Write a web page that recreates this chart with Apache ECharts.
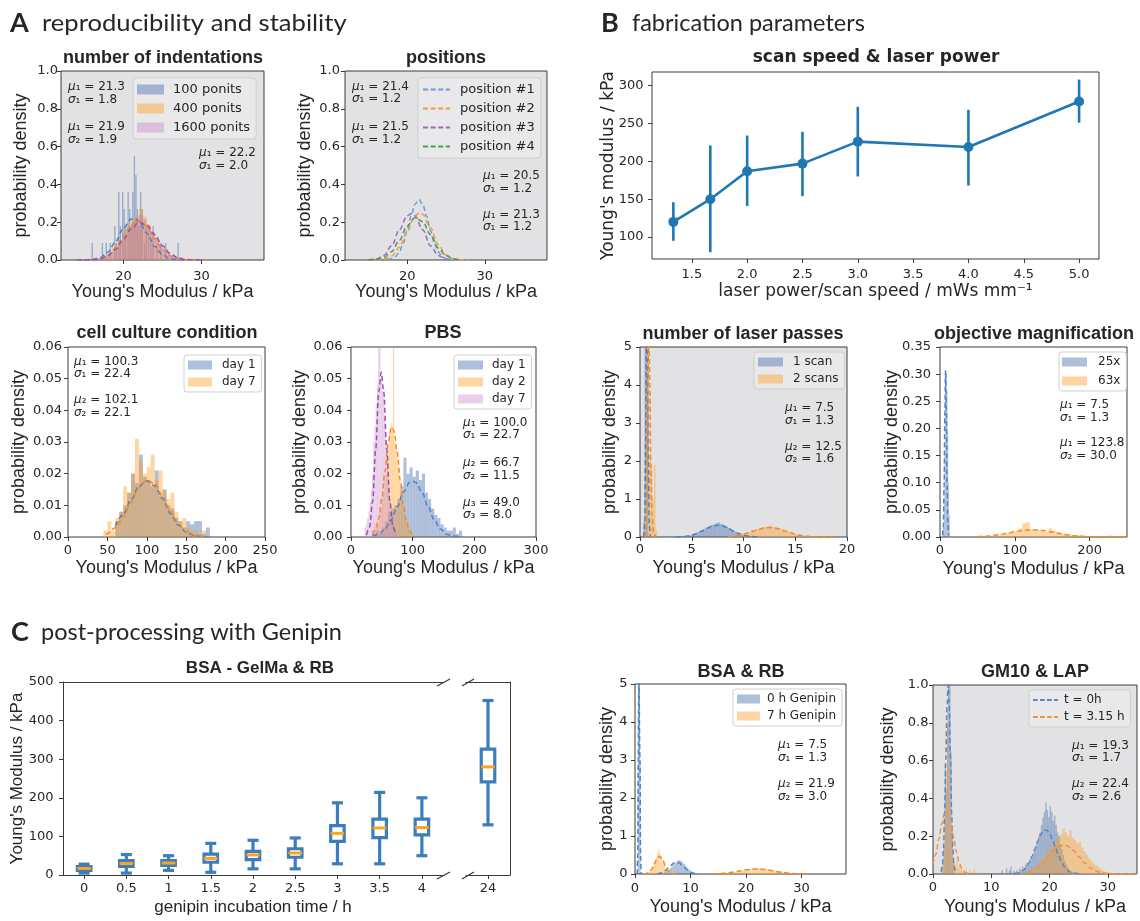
<!DOCTYPE html>
<html>
<head>
<meta charset="utf-8">
<script src="https://cdn.jsdelivr.net/npm/echarts@6.0.0/dist/echarts.min.js"></script>
<style>
html,body{margin:0;padding:0;background:#ffffff;}
#chart{width:1140px;height:921px;}
</style>
</head>
<body>
<div id="chart"></div>
<script>
// ======================= DATA =======================
// ---- A1: number of indentations ----
const a1Names = ['100 ponits', '400 ponits', '1600 ponits'];
const a1BlueCenters = [16.0,17.3,17.8,18.3,18.9,19.1,19.4,19.6,19.9,20.1,20.3,20.6,20.8,21.0,21.2,21.4,21.6,21.8,22.0,22.2,22.4,22.7,22.9,23.2,23.5,23.8,24.3,24.8,25.4,27.0];
const a1BlueVals = [0.09,0.09,0.09,0.09,0.18,0.09,0.36,0.18,0.36,0.27,0.18,0.36,0.27,0.18,0.36,0.55,0.45,0.27,0.18,0.36,0.27,0.09,0.18,0.18,0.09,0.18,0.09,0.09,0.09,0.09];
const a1BlueBin = 0.17;
const a1OrangeStart = 15, a1OrangeBin = 0.5;
const a1OrangeVals = [0.005,0,0.006,0.010,0.016,0.022,0.036,0.058,0.085,0.105,0.150,0.185,0.215,0.235,0.270,0.230,0.190,0.150,0.100,0.072,0.045,0.030,0.016,0.009,0.005,0.003,0.002,0,0.004,0,0,0.004];
const a1PurpleStart = 14, a1PurpleBin = 0.5;
const a1PurpleVals = [0.001,0.001,0.001,0.002,0.003,0.006,0.010,0.018,0.030,0.046,0.068,0.096,0.128,0.158,0.19,0.22,0.24,0.215,0.18,0.152,0.120,0.090,0.063,0.043,0.027,0.016,0.009,0.005,0.003,0.002,0.001,0.001,0,0,0,0];
const a1FitBlueX = [15,16,17,18,19,20,21,21.5,22,23,24,25,26,27,28];
const a1FitBlueY = [0.0005,0.003,0.013,0.041,0.097,0.170,0.217,0.220,0.204,0.141,0.072,0.027,0.007,0.0015,0.0002];
const a1FitOrangeX = [15,16,17,18,19,20,21,22,23,24,25,26,27,28,29];
const a1FitOrangeY = [0.0003,0.0017,0.0075,0.026,0.065,0.127,0.188,0.209,0.178,0.114,0.055,0.020,0.006,0.0012,0.0002];
const a1FitPurpleX = [14,15,16,17,18,19,20,21,22,23,24,25,26,27,28,29,30];
const a1FitPurpleY = [0,0.0003,0.0016,0.0068,0.022,0.056,0.109,0.167,0.199,0.185,0.133,0.075,0.033,0.011,0.003,0.0006,0];
const a1Notes = ['μ₁ = 21.3\nσ₁ = 1.8', 'μ₁ = 21.9\nσ₂ = 1.9', 'μ₁ = 22.2\nσ₁ = 2.0'];

// ---- A2: positions ----
const a2Names = ['position #1', 'position #2', 'position #3', 'position #4'];
const a2Pos1X = [17.5,18,18.5,19,19.5,20,20.5,21,21.5,22,22.5,23,23.5,24,24.5,25,25.5,26];
const a2Pos1Y = [0.002,0.006,0.018,0.043,0.089,0.156,0.232,0.295,0.32,0.295,0.232,0.156,0.089,0.043,0.018,0.006,0.002,0.0005];
const a2Pos2X = [16,17,18,19,20,21,21.6,22,23,24,25,26,27,28];
const a2Pos2Y = [0.0005,0.004,0.02,0.067,0.152,0.233,0.25,0.242,0.17,0.081,0.026,0.006,0.001,0.0001];
const a2Pos3X = [15,16,17,18,19,20,20.5,21,22,23,24,25,26];
const a2Pos3Y = [0.0008,0.005,0.024,0.075,0.16,0.234,0.245,0.234,0.16,0.075,0.024,0.005,0.0008];
const a2Pos4X = [15,16,17,18,19,20,21,22,23,24,25,26,27];
const a2Pos4Y = [0.0005,0.003,0.0135,0.044,0.104,0.179,0.224,0.203,0.134,0.064,0.022,0.0057,0.001];
const a2Notes = ['μ₁ = 21.4\nσ₁ = 1.2', 'μ₁ = 21.5\nσ₁ = 1.2', 'μ₁ = 20.5\nσ₁ = 1.2', 'μ₁ = 21.3\nσ₁ = 1.2'];

// ---- A3: cell culture condition ----
const a3Names = ['day 1', 'day 7'];
const a3Day1Start = 60, a3Day1Bin = 5;
const a3Day1Vals = [0.005,0.008,0.010,0.014,0.020,0.017,0.026,0.019,0.018,0.016,0.021,0.013,0.015,0.010,0.009,0.006,0.005,0.003,0.005,0.004,0.005,0.005,0.001,0.003];
const a3Day7Start = 45, a3Day7Bin = 5;
const a3Day7Vals = [0.002,0.005,0.002,0.006,0.008,0.016,0.014,0.020,0.031,0.024,0.020,0.022,0.026,0.018,0.021,0.015,0.012,0.014,0.008,0.005,0.006,0.003,0.002,0.002,0.001,0.002];
const a3Fit1X = [60,70,80,90,100,110,120,130,140,150,160,170,175];
const a3Fit1Y = [0.0035,0.0071,0.0118,0.016,0.0178,0.0162,0.0121,0.0074,0.0037,0.0015,0.0005,0.00014,0.0001];
const a3Fit2X = [48,50,60,70,80,90,100,110,120,130,140,150,160,170];
const a3Fit2Y = [0.0009,0.0011,0.0029,0.0063,0.0109,0.0155,0.0179,0.0169,0.013,0.0081,0.0041,0.0017,0.0006,0.0002];
const a3Notes = ['μ₁ = 100.3\nσ₁ = 22.4', 'μ₂ = 102.1\nσ₂ = 22.1'];

// ---- A4: PBS ----
const a4Names = ['day 1', 'day 2', 'day 7'];
const a4Day1Start = 35, a4Day1Bin = 5;
const a4Day1Vals = [0.001,0.002,0.001,0.003,0.005,0.008,0.009,0.010,0.012,0.016,0.025,0.020,0.022,0.019,0.021,0.018,0.020,0.014,0.012,0.009,0.007,0.006,0.004,0.003,0.002,0.002,0.003,0.001,0.002];
const a4Day2Start = 34, a4Day2Bin = 2;
const a4Day2Vals = [0.002,0.002,0.004,0.003,0.005,0.004,0.008,0.009,0.012,0.014,0.018,0.020,0.026,0.029,0.033,0.036,0.035,0.065,0.030,0.029,0.027,0.022,0.018,0.015,0.012,0.010,0.007,0.006,0.004,0.003,0.003,0.002,0.001];
const a4Day7Start = 22, a4Day7Bin = 2;
const a4Day7Vals = [0.003,0.004,0.006,0.008,0.011,0.015,0.020,0.030,0.035,0.042,0.048,0.065,0.065,0.050,0.046,0.044,0.038,0.030,0.024,0.016,0.012,0.008,0.005,0.004,0.002,0.001,0.001];
const a4Fit1X = [35,45,55,65,75,85,95,100,105,115,125,135,145,155,165,175];
const a4Fit1Y = [0.0003,0.0009,0.0025,0.0054,0.0096,0.0142,0.0172,0.0176,0.0172,0.0142,0.0096,0.0054,0.0025,0.0009,0.0003,0.0001];
const a4Fit2X = [35,40,45,50,55,60,65,66.7,70,75,80,85,90,95,100];
const a4Fit2Y = [0.0008,0.0024,0.0058,0.0121,0.0207,0.0293,0.0343,0.0347,0.0333,0.0268,0.0178,0.0098,0.0045,0.0017,0.0005];
const a4Fit3X = [25,30,35,40,45,49,53,58,63,68,73];
const a4Fit3Y = [0.0006,0.0031,0.0112,0.0276,0.0459,0.052,0.0459,0.0276,0.0112,0.0031,0.0006];
const a4Notes = ['μ₁ = 100.0\nσ₁ = 22.7', 'μ₂ = 66.7\nσ₂ = 11.5', 'μ₃ = 49.0\nσ₃ = 8.0'];

// ---- B1: scan speed & laser power ----
const b1X = [1.333,1.667,2.0,2.5,3.0,4.0,5.0];
const b1Y = [120,150,187,197,226,219,279];
const b1Lo = [95,80,141,154,180,168,251];
const b1Hi = [146,221,234,239,272,268,308];

// ---- B2: number of laser passes ----
const b2Names = ['1 scan', '2 scans'];
const b2BlueSpikeStart = 0.32, b2BlueSpikeBin = 0.12;
const b2BlueSpikeVals = [0.4,5.5,5.5,4.3];
const b2BlueStart = 4.0, b2BlueBin = 0.25;
const b2BlueVals = [0.012,0.02,0.03,0.045,0.065,0.09,0.13,0.15,0.2,0.24,0.27,0.31,0.33,0.36,0.38,0.34,0.32,0.28,0.24,0.2,0.16,0.12,0.09,0.065,0.045,0.03,0.02,0.012];
const b2OrangeSpikeStart = 0.6, b2OrangeSpikeBin = 0.15;
const b2OrangeSpikeVals = [5.5,3.7,2.2,1.9,1.0,1.9,0.2];
const b2OrangeStart = 8.4, b2OrangeBin = 0.4;
const b2OrangeVals = [0.015,0.025,0.04,0.065,0.095,0.13,0.175,0.21,0.235,0.27,0.3,0.26,0.24,0.2,0.16,0.12,0.08,0.055,0.035,0.02,0.012,0.006,0.004,0.002,0.002,0.001,0.002];
const b2FitSpikeBX = [0.35,0.45,0.55,0.62,0.7,0.8,0.9,1.0];
const b2FitSpikeBY = [0,0.3,2.5,5.5,5.5,2.0,0.3,0];
const b2FitBX = [3.5,4,4.5,5,5.5,6,6.5,7,7.5,8,8.5,9,9.5,10,10.5,11,11.5];
const b2FitBY = [0.003,0.008,0.022,0.049,0.095,0.159,0.23,0.288,0.31,0.288,0.23,0.159,0.095,0.049,0.022,0.008,0.003];
const b2FitSpikeOX = [0.55,0.65,0.75,0.85,0.95,1.05,1.15,1.3,1.5];
const b2FitSpikeOY = [0,0.8,4.0,5.5,4.0,1.8,0.6,0.1,0];
const b2FitOX = [8.5,9,9.5,10,10.5,11,11.5,12,12.5,13,13.5,14,14.5,15,15.5,16,16.5,17,18,19];
const b2FitOY = [0.011,0.023,0.043,0.074,0.115,0.161,0.206,0.238,0.25,0.238,0.206,0.161,0.115,0.074,0.043,0.023,0.011,0.005,0.0006,0];
const b2Notes = ['μ₁ = 7.5\nσ₁ = 1.3', 'μ₂ = 12.5\nσ₂ = 1.6'];

// ---- B3: objective magnification ----
const b3Names = ['25x', '63x'];
const b3BlueStart = 4, b3BlueBin = 1;
const b3BlueVals = [0.02,0.07,0.15,0.25,0.30,0.27,0.19,0.10,0.04];
const b3OrangeStart = 50, b3OrangeBin = 5;
const b3OrangeVals = [0.001,0,0.002,0.002,0.003,0.004,0.005,0.006,0.008,0.009,0.011,0.016,0.025,0.027,0.014,0.013,0.013,0.012,0.010,0.016,0.012,0.008,0.007,0.006,0.005,0.004,0.003,0.004,0.002,0.002,0.002,0.001,0.001,0.002,0.001,0.003,0.001,0.001,0.001,0.001];
const b3FitBX = [3.5,4.5,5.5,6.5,7.5,8.5,9.5,10.5,11.5];
const b3FitBY = [0.003,0.022,0.095,0.23,0.307,0.23,0.095,0.022,0.003];
const b3FitOX = [50,60,70,80,90,100,110,120,130,140,150,160,170,180,190,200,210,220,230,240,250];
const b3FitOY = [0.0006,0.0014,0.0027,0.0046,0.007,0.0097,0.012,0.0132,0.013,0.0115,0.0091,0.0064,0.0041,0.0023,0.0012,0.0005,0.0002,0.0001,0,0,0];
const b3Notes = ['μ₁ = 7.5\nσ₁ = 1.3', 'μ₁ = 123.8\nσ₂ = 30.0'];

// ---- C1: BSA - GelMa & RB (box plot) ----
const c1Cats = ['0','0.5','1','1.5','2','2.5','3','3.5','4'];
const c1Min = [5,5,12,7,16,16,29,29,50];
const c1Q1  = [12,22,25,33,40,46,87,97,104];
const c1Med = [17,30,31,43,52,57,108,122,123];
const c1Q3  = [22,37,37,54,61,68,128,145,145];
const c1Max = [28,53,50,82,90,96,187,214,200];
const c1BreakCats = ['24'];
const c1BreakBox = [130,241,280,326,452];

// ---- C2: BSA & RB ----
const c2Names = ['0 h Genipin', '7 h Genipin'];
const c2BlueSpikeStart = 0.5, c2BlueSpikeBin = 0.1;
const c2BlueSpikeVals = [4.2,5.5,5.5,5.5,3.0];
const c2BlueStart = 4.75, c2BlueBin = 0.25;
const c2BlueVals = [0.02,0.03,0.045,0.065,0.09,0.12,0.15,0.19,0.23,0.27,0.3,0.34,0.37,0.36,0.33,0.3,0.26,0.22,0.18,0.14,0.1,0.07,0.05,0.03,0.02,0.01];
const c2Orange1Start = 2.0, c2Orange1Bin = 0.2;
const c2Orange1Vals = [0.015,0.03,0.045,0.07,0.11,0.16,0.22,0.3,0.36,0.45,0.58,0.65,0.55,0.48,0.4,0.3,0.22,0.15,0.1,0.06,0.04,0.02];
const c2Orange2Start = 14.5, c2Orange2Bin = 0.5;
const c2Orange2Vals = [0.006,0.01,0.013,0.02,0.026,0.036,0.045,0.058,0.07,0.085,0.1,0.115,0.13,0.14,0.15,0.155,0.145,0.14,0.13,0.12,0.105,0.09,0.075,0.06,0.045,0.034,0.024,0.016,0.011,0.008,0.005,0.003,0.002];
const c2FitSpikeX = [0.4,0.5,0.6,0.7,0.8,0.9,1.0,1.1];
const c2FitSpikeY = [0,0.5,3.0,5.5,5.5,3.0,0.5,0];
const c2FitBX = [4,4.5,5,5.5,6,6.5,7,7.5,8,8.5,9,9.5,10,10.5,11,11.5];
const c2FitBY = [0.008,0.022,0.049,0.095,0.159,0.23,0.288,0.31,0.288,0.23,0.159,0.095,0.049,0.022,0.008,0.003];
const c2FitO1X = [1.5,2,2.5,3,3.5,4,4.4,5,5.5,6,6.5,7,7.5];
const c2FitO1Y = [0.0014,0.009,0.039,0.121,0.268,0.421,0.47,0.366,0.204,0.08,0.022,0.004,0.0006];
const c2FitO2X = [14,15,16,17,18,19,20,21,22,23,24,25,26,27,28,29,30,31];
const c2FitO2Y = [0.0041,0.0094,0.0192,0.035,0.057,0.083,0.109,0.127,0.133,0.124,0.104,0.078,0.052,0.031,0.0168,0.0081,0.0035,0.0013];
const c2Notes = ['μ₁ = 7.5\nσ₁ = 1.3', 'μ₂ = 21.9\nσ₂ = 3.0'];

// ---- C3: GM10 & LAP ----
const c3Names = ['t = 0h', 't = 3.15 h'];
const c3BlueSpikeStart = 1.6, c3BlueSpikeBin = 0.2;
const c3BlueSpikeVals = [0.04,0.15,0.58,0.45,0.8,1.1,1.1,0.65,0.25,0.06];
const c3OrangeSpikeStart = 1.4, c3OrangeSpikeBin = 0.2;
const c3OrangeSpikeVals = [0.03,0.06,0.12,0.3,0.55,0.87,0.6,0.4,0.25,0.15,0.08,0.06,0.05,0.07,0.03,0.05,0.02,0.03,0.01,0.02,0.01,0.03,0.01,0,0.02,0,0.01,0,0.03,0.01,0,0,0.01];
const c3BlueStart = 11.5, c3BlueBin = 0.25;
const c3BlueVals = [0,0.02,0,0,0.03,0,0.02,0.04,0,0.02,0.01,0.02,0.01,0.03,0.02,0.04,0.03,0.05,0.06,0.05,0.08,0.09,0.1,0.12,0.15,0.17,0.2,0.22,0.26,0.3,0.33,0.38,0.34,0.3,0.36,0.33,0.28,0.31,0.26,0.22,0.2,0.16,0.13,0.1,0.07,0.05,0.035,0.02,0.015,0.01];
const c3OrangeStart = 15.0, c3OrangeBin = 0.4;
const c3OrangeVals = [0.005,0.007,0.01,0.015,0.02,0.03,0.04,0.05,0.065,0.08,0.1,0.12,0.13,0.15,0.17,0.19,0.2,0.21,0.24,0.22,0.2,0.23,0.19,0.18,0.16,0.17,0.14,0.12,0.1,0.085,0.07,0.055,0.045,0.035,0.025,0.018,0.012,0.01,0.007,0.005,0.004,0.003,0.003,0.002,0.002,0.001,0.002,0.001,0.001,0.001];
const c3FitSpikeBX = [1.4,1.6,1.8,2.0,2.2,2.4,2.6,2.8,3.0,3.2,3.4,3.6,3.8];
const c3FitSpikeBY = [0.011,0.044,0.135,0.325,0.607,0.883,1.0,0.883,0.607,0.325,0.135,0.044,0.011];
const c3FitSpikeOX = [0,0.5,1,1.5,2,2.3,2.5,3,3.5,4,4.5,5,5.5,6];
const c3FitSpikeOY = [0.05,0.105,0.183,0.266,0.324,0.335,0.33,0.281,0.2,0.119,0.059,0.024,0.008,0.0025];
const c3FitBX = [14,14.5,15,15.5,16,16.5,17,17.5,18,18.5,19,19.5,20,20.5,21,21.5,22,22.5,23,23.5,24,25];
const c3FitBY = [0.0018,0.0044,0.0096,0.0193,0.0357,0.0605,0.094,0.134,0.175,0.21,0.231,0.233,0.216,0.183,0.1425,0.102,0.0666,0.04,0.022,0.011,0.0052,0.0008];
const c3FitOX = [15,16,17,18,19,20,21,22,23,24,25,26,27,28,29,30,32,35];
const c3FitOY = [0.0027,0.0074,0.0177,0.0366,0.065,0.0999,0.1324,0.151,0.149,0.127,0.0928,0.0587,0.032,0.015,0.0061,0.0021,0.0002,0];
const c3Notes = ['μ₁ = 19.3\nσ₁ = 1.7', 'μ₂ = 22.4\nσ₂ = 2.6'];

// ---- tick values ----
const ticksKpa38 = [20,30];
const ticksProb1 = [0,0.2,0.4,0.6,0.8,1.0];
const ticksA3x = [0,50,100,150,200,250];
const ticksA4x = [0,100,200,300];
const ticksProb006 = [0,0.01,0.02,0.03,0.04,0.05,0.06];
const ticksB1x = [1.5,2.0,2.5,3.0,3.5,4.0,4.5,5.0];
const ticksB1y = [100,150,200,250,300];
const ticksB2x = [0,5,10,15,20];
const ticks0to5 = [0,1,2,3,4,5];
const ticksB3x = [0,100,200];
const ticksB3y = [0,0.05,0.10,0.15,0.20,0.25,0.30,0.35];
const ticksC1y = [0,100,200,300,400,500];
const ticksC2x = [0,10,20,30];

// ---- headings / titles / axis names (text) ----
const sectionHeads = [['A','reproducibility and stability'],['B','fabrication parameters'],['C','post-processing with Genipin']];
const panelTitles = ['number of indentations','positions','cell culture condition','PBS','scan speed & laser power','number of laser passes','objective magnification','BSA - GelMa & RB','BSA & RB','GM10 & LAP'];
const xNameKpa = "Young's Modulus / kPa";
const yNameProb = 'probability density';

// ======================= STYLE =======================
const GREY = '#e2e2e4';
const AX = '#3a3a3a';
const TXT = '#262626';
const BLUE_BAR = 'rgba(76,114,176,0.45)';
const BLUE_BAR_A1 = 'rgba(76,114,176,0.5)';
const ORANGE_BAR = 'rgba(255,155,30,0.42)';
const PURPLE_BAR = 'rgba(190,110,190,0.33)';
const PINK_BAR = 'rgba(205,140,205,0.42)';
const BLUE_LN = '#4a82c6';
const ORANGE_LN = '#f28a22';
const PURPLE_LN = '#9a4fb2';
const LINE_B1 = '#1f77b4';
const BOX_C = '#3b7dbd';
const MED_C = '#ffa31a';
const TICKF = {fontFamily:'DejaVu Sans', fontSize:13, color:TXT};
const NAMEF = {fontFamily:'Liberation Sans', fontSize:18, color:TXT};

// ======================= HELPERS =======================
function denseBins(start, w, vals){ return vals.map((v,i)=>[start+i*w, start+(i+1)*w, v]); }
function sparseBins(centers, w, vals){ return centers.map((c,i)=>[c-w/2, c+w/2, vals[i]]); }
function zip(xs, ys){ return xs.map((x,i)=>[x, ys[i]]); }
function hist(name, bins, color, gi){
  return {type:'custom', name, xAxisIndex:gi, yAxisIndex:gi, clip:true, silent:true, z:2,
    itemStyle:{color}, data:bins, encode:{x:[0,1], y:2},
    renderItem:(params, api)=>{
      const p0 = api.coord([api.value(0), api.value(2)]);
      const p1 = api.coord([api.value(1), 0]);
      return {type:'rect', shape:{x:p0[0], y:p0[1], width:p1[0]-p0[0], height:p1[1]-p0[1]}, style:{fill:color}};
    }};
}
function curve(name, pts, color, gi, w){
  return {type:'line', name, xAxisIndex:gi, yAxisIndex:gi, data:pts, symbol:'none', showSymbol:false,
    smooth:0.35, smoothMonotone:'x', silent:true, clip:true, z:4,
    lineStyle:{color, width:w||1.5, type:[5,3]}, itemStyle:{color}};
}
function fmt(d){ return v=>Number(v).toFixed(d); }
function valAxis(gi, min, max, ticks, d, name, gap, margin, nf){
  return {type:'value', gridIndex:gi, min, max, axisLine:{show:false}, splitLine:{show:false},
    axisTick:{show:true, length:4, inside:false, lineStyle:{color:AX}, customValues:ticks},
    axisLabel:{...TICKF, margin:margin, customValues:ticks, formatter:fmt(d)},
    name, nameLocation:'middle', nameGap:gap, nameMoveOverlap:false, nameTextStyle:nf||NAMEF};
}
function gridBox(l,t,w,h,bg){
  return {left:l, top:t, width:w, height:h, show:true, backgroundColor:bg?GREY:'rgba(0,0,0,0)',
    borderColor:AX, borderWidth:1, outerBoundsMode:'none'};
}
function legendBox(names, colors, left, top, o){
  return {show:true, orient:'vertical', left, top, selectedMode:false, symbolKeepAspect:false,
    data:names.map((n,i)=>({name:n, icon:o.icon||'rect', itemStyle:{color:colors[i], borderWidth:0}})),
    itemWidth:o.iw, itemHeight:o.ih, itemGap:o.gap,
    textStyle:{fontFamily:'DejaVu Sans', fontSize:o.fs, color:TXT, padding:[0,0,0,o.tp]},
    backgroundColor:o.bg, borderColor:'#cfcfcf', borderWidth:1, borderRadius:3, padding:o.pad};
}
const DASH_ICON = 'path://M0,0h6v2H0z M9,0h6v2H9z M18,0h6v2h-6z M27,0h5v2h-5z';
function richNote(s){ return s.replace(/([μσ])/g, '{i|$1}'); }
function note(x, y, s){
  return {type:'text', x, y, z:100, silent:true, style:{text:richNote(s), font:'12px "DejaVu Sans"', fill:TXT,
    lineHeight:12.5, textAlign:'left', textVerticalAlign:'top', verticalAlign:'top',
    rich:{i:{fontStyle:'italic', fontFamily:'DejaVu Sans', fontSize:12, fill:TXT}}}};
}
function ctext(x, y, s, font, align, sx){
  return {type:'text', x, y, z:100, silent:true, scaleX:sx||1, style:{text:s, font, fill:TXT, textAlign:align||'center', textVerticalAlign:'middle', verticalAlign:'middle'}};
}
function boxRender(params, api){
  const x = api.value(0);
  const pMin = api.coord([x, api.value(1)]), pQ1 = api.coord([x, api.value(2)]);
  const pMed = api.coord([x, api.value(3)]), pQ3 = api.coord([x, api.value(4)]);
  const pMax = api.coord([x, api.value(5)]);
  const cx = pMin[0], bw = 13.5, cw = 11;
  const st = {stroke:BOX_C, lineWidth:3.2};
  return {type:'group', children:[
    {type:'line', shape:{x1:cx, y1:pMin[1], x2:cx, y2:pQ1[1]}, style:st},
    {type:'line', shape:{x1:cx, y1:pQ3[1], x2:cx, y2:pMax[1]}, style:st},
    {type:'line', shape:{x1:cx-cw/2, y1:pMin[1], x2:cx+cw/2, y2:pMin[1]}, style:st},
    {type:'line', shape:{x1:cx-cw/2, y1:pMax[1], x2:cx+cw/2, y2:pMax[1]}, style:st},
    {type:'rect', shape:{x:cx-bw/2, y:pQ3[1], width:bw, height:pQ1[1]-pQ3[1]}, style:{fill:'#ffffff', stroke:BOX_C, lineWidth:3.2}},
    {type:'line', shape:{x1:cx-bw/2, y1:pMed[1], x2:cx+bw/2, y2:pMed[1]}, style:{stroke:MED_C, lineWidth:3}}
  ]};
}
function errRender(params, api){
  const a = api.coord([api.value(0), api.value(1)]);
  const b = api.coord([api.value(0), api.value(2)]);
  return {type:'line', shape:{x1:a[0], y1:a[1], x2:b[0], y2:b[1]}, style:{stroke:LINE_B1, lineWidth:2.6}};
}

// ======================= LAYOUT =======================
// grid indices: 0 A1, 1 A2, 2 A3, 3 A4, 4 B1, 5 B2, 6 B3, 7 C2, 8 C3, 9 C1 left, 10 C1 right
const grids = [
  gridBox(61,71,203,189,true),
  gridBox(345,71,202,189,true),
  gridBox(68,347,197,190,false),
  gridBox(351,347,185,190,false),
  gridBox(652,72,447,187,false),
  gridBox(640,347,207,190,true),
  gridBox(940,347,187,190,false),
  gridBox(635,684,211,190,false),
  gridBox(933,685,204,189,true),
  {left:63, top:682, width:380, height:193, show:false, outerBoundsMode:'none'},
  {left:466, top:682, width:44, height:193, show:false, outerBoundsMode:'none'}
];
const B1NAME = {fontFamily:'DejaVu Sans', fontSize:17, color:TXT};
const C1NAME = {fontFamily:'Liberation Sans', fontSize:17, color:TXT};
const xAxes = [
  valAxis(0, 12, 38, ticksKpa38, 0, xNameKpa, 23, 10),
  valAxis(1, 12, 38, ticksKpa38, 0, xNameKpa, 23, 10),
  valAxis(2, 0, 250, ticksA3x, 0, xNameKpa, 22, 7),
  valAxis(3, 0, 300, ticksA4x, 0, xNameKpa, 22, 7),
  valAxis(4, 1.14, 5.18, ticksB1x, 1, 'laser power/scan speed / mWs mm⁻¹', 24, 9.5, B1NAME),
  valAxis(5, 0, 20, ticksB2x, 0, xNameKpa, 22, 6.5),
  valAxis(6, 0, 250, ticksB3x, 0, xNameKpa, 23, 7),
  valAxis(7, 0, 38, ticksC2x, 0, xNameKpa, 24, 8.5),
  valAxis(8, 0, 35, ticksC2x, 0, xNameKpa, 24, 7.5),
  {type:'category', gridIndex:9, data:c1Cats, boundaryGap:true,
    axisLine:{show:true, onZero:false, lineStyle:{color:AX, width:1}},
    axisTick:{show:true, alignWithLabel:true, length:4, lineStyle:{color:AX}},
    axisLabel:{...TICKF, margin:7.5}, splitLine:{show:false},
    name:'genipin incubation time / h', nameLocation:'middle', nameGap:24, nameMoveOverlap:false, nameTextStyle:C1NAME},
  {type:'category', gridIndex:10, data:c1BreakCats, boundaryGap:true,
    axisLine:{show:true, onZero:false, lineStyle:{color:AX, width:1}},
    axisTick:{show:true, alignWithLabel:true, length:4, lineStyle:{color:AX}},
    axisLabel:{...TICKF, margin:7.5}, splitLine:{show:false}},
  {type:'value', gridIndex:9, position:'top', min:0, max:1, axisLine:{show:true, onZero:false, lineStyle:{color:AX, width:1}}, axisTick:{show:false}, axisLabel:{show:false}, splitLine:{show:false}},
  {type:'value', gridIndex:10, position:'top', min:0, max:1, axisLine:{show:true, onZero:false, lineStyle:{color:AX, width:1}}, axisTick:{show:false}, axisLabel:{show:false}, splitLine:{show:false}}
];
const yAxes = [
  valAxis(0, 0, 1, ticksProb1, 1, yNameProb, 31, 3),
  valAxis(1, 0, 1, ticksProb1, 1, yNameProb, 31, 5),
  valAxis(2, 0, 0.06, ticksProb006, 2, yNameProb, 40, 6),
  valAxis(3, 0, 0.06, ticksProb006, 2, yNameProb, 42, 8.5),
  valAxis(4, 71, 318, ticksB1y, 0, "Young's modulus / kPa", 35, 8.5, B1NAME),
  valAxis(5, 0, 5, ticks0to5, 0, yNameProb, 21, 8),
  valAxis(6, 0, 0.35, ticksB3y, 2, yNameProb, 39, 9),
  valAxis(7, 0, 5, ticks0to5, 0, yNameProb, 19, 7.5),
  valAxis(8, 0, 1, ticksProb1, 1, yNameProb, 36, 4.5),
  {type:'value', gridIndex:9, min:0, max:500, axisLine:{show:true, onZero:false, lineStyle:{color:AX, width:1}},
    axisTick:{show:true, length:4, lineStyle:{color:AX}, customValues:ticksC1y},
    axisLabel:{...TICKF, margin:9.5, customValues:ticksC1y}, splitLine:{show:false},
    name:"Young's Modulus / kPa", nameLocation:'middle', nameGap:37, nameMoveOverlap:false, nameTextStyle:C1NAME},
  {type:'value', gridIndex:10, min:0, max:500, position:'right', axisLine:{show:true, onZero:false, lineStyle:{color:AX, width:1}},
    axisTick:{show:false}, axisLabel:{show:false}, splitLine:{show:false}}
];

// ======================= SERIES =======================
const series = [
  // A1
  hist(a1Names[0], sparseBins(a1BlueCenters, a1BlueBin, a1BlueVals), BLUE_BAR_A1, 0),
  hist(a1Names[1], denseBins(a1OrangeStart, a1OrangeBin, a1OrangeVals), ORANGE_BAR, 0),
  hist(a1Names[2], denseBins(a1PurpleStart, a1PurpleBin, a1PurpleVals), PURPLE_BAR, 0),
  curve('A1 fit 1', zip(a1FitBlueX, a1FitBlueY), BLUE_LN, 0),
  curve('A1 fit 2', zip(a1FitOrangeX, a1FitOrangeY), ORANGE_LN, 0),
  curve('A1 fit 3', zip(a1FitPurpleX, a1FitPurpleY), PURPLE_LN, 0),
  // A2
  curve(a2Names[0], zip(a2Pos1X, a2Pos1Y), '#6b9ed6', 1),
  curve(a2Names[1], zip(a2Pos2X, a2Pos2Y), '#f39a45', 1),
  curve(a2Names[2], zip(a2Pos3X, a2Pos3Y), '#a566bd', 1),
  curve(a2Names[3], zip(a2Pos4X, a2Pos4Y), '#4a9e4a', 1),
  // A3
  hist(a3Names[0], denseBins(a3Day1Start, a3Day1Bin, a3Day1Vals), BLUE_BAR, 2),
  hist(a3Names[1], denseBins(a3Day7Start, a3Day7Bin, a3Day7Vals), ORANGE_BAR, 2),
  curve('A3 fit 1', zip(a3Fit1X, a3Fit1Y), BLUE_LN, 2),
  curve('A3 fit 2', zip(a3Fit2X, a3Fit2Y), ORANGE_LN, 2),
  // A4
  hist(a4Names[0], denseBins(a4Day1Start, a4Day1Bin, a4Day1Vals), BLUE_BAR, 3),
  hist(a4Names[1], denseBins(a4Day2Start, a4Day2Bin, a4Day2Vals), ORANGE_BAR, 3),
  hist('A4 day 7', denseBins(a4Day7Start, a4Day7Bin, a4Day7Vals), PINK_BAR, 3),
  curve('A4 fit 1', zip(a4Fit1X, a4Fit1Y), BLUE_LN, 3),
  curve('A4 fit 2', zip(a4Fit2X, a4Fit2Y), ORANGE_LN, 3),
  curve('A4 fit 3', zip(a4Fit3X, a4Fit3Y), PURPLE_LN, 3),
  // B1
  {type:'custom', name:'B1 err', xAxisIndex:4, yAxisIndex:4, silent:true, z:3,
    data:b1X.map((x,i)=>[x, b1Lo[i], b1Hi[i]]), encode:{x:0, y:[1,2]}, renderItem:errRender},
  {type:'line', name:'B1 mean', xAxisIndex:4, yAxisIndex:4, silent:true, z:4, data:zip(b1X, b1Y),
    symbol:'circle', symbolSize:10, showSymbol:true, lineStyle:{color:LINE_B1, width:2.6}, itemStyle:{color:LINE_B1}},
  // B2
  hist(b2Names[0], denseBins(b2BlueSpikeStart, b2BlueSpikeBin, b2BlueSpikeVals), BLUE_BAR, 5),
  hist(b2Names[0], denseBins(b2BlueStart, b2BlueBin, b2BlueVals), BLUE_BAR, 5),
  hist(b2Names[1], denseBins(b2OrangeSpikeStart, b2OrangeSpikeBin, b2OrangeSpikeVals), ORANGE_BAR, 5),
  hist(b2Names[1], denseBins(b2OrangeStart, b2OrangeBin, b2OrangeVals), ORANGE_BAR, 5),
  curve('B2 fit 1a', zip(b2FitSpikeBX, b2FitSpikeBY), BLUE_LN, 5),
  curve('B2 fit 1b', zip(b2FitBX, b2FitBY), BLUE_LN, 5),
  curve('B2 fit 2a', zip(b2FitSpikeOX, b2FitSpikeOY), ORANGE_LN, 5),
  curve('B2 fit 2b', zip(b2FitOX, b2FitOY), ORANGE_LN, 5),
  // B3
  hist(b3Names[0], denseBins(b3BlueStart, b3BlueBin, b3BlueVals), BLUE_BAR, 6),
  hist(b3Names[1], denseBins(b3OrangeStart, b3OrangeBin, b3OrangeVals), ORANGE_BAR, 6),
  curve('B3 fit 1', zip(b3FitBX, b3FitBY), BLUE_LN, 6),
  curve('B3 fit 2', zip(b3FitOX, b3FitOY), ORANGE_LN, 6),
  // C2
  hist(c2Names[0], denseBins(c2BlueSpikeStart, c2BlueSpikeBin, c2BlueSpikeVals), BLUE_BAR, 7),
  hist(c2Names[0], denseBins(c2BlueStart, c2BlueBin, c2BlueVals), BLUE_BAR, 7),
  hist(c2Names[1], denseBins(c2Orange1Start, c2Orange1Bin, c2Orange1Vals), ORANGE_BAR, 7),
  hist(c2Names[1], denseBins(c2Orange2Start, c2Orange2Bin, c2Orange2Vals), ORANGE_BAR, 7),
  curve('C2 fit 1a', zip(c2FitSpikeX, c2FitSpikeY), BLUE_LN, 7),
  curve('C2 fit 1b', zip(c2FitBX, c2FitBY), BLUE_LN, 7),
  curve('C2 fit 2a', zip(c2FitO1X, c2FitO1Y), ORANGE_LN, 7),
  curve('C2 fit 2b', zip(c2FitO2X, c2FitO2Y), ORANGE_LN, 7),
  // C3
  hist('C3 h1a', denseBins(c3BlueSpikeStart, c3BlueSpikeBin, c3BlueSpikeVals), BLUE_BAR, 8),
  hist('C3 h2a', denseBins(c3OrangeSpikeStart, c3OrangeSpikeBin, c3OrangeSpikeVals), ORANGE_BAR, 8),
  hist('C3 h1b', denseBins(c3BlueStart, c3BlueBin, c3BlueVals), BLUE_BAR, 8),
  hist('C3 h2b', denseBins(c3OrangeStart, c3OrangeBin, c3OrangeVals), ORANGE_BAR, 8),
  curve(c3Names[0], zip(c3FitSpikeBX, c3FitSpikeBY), '#5b87c2', 8),
  curve(c3Names[0], zip(c3FitBX, c3FitBY), '#5b87c2', 8),
  curve(c3Names[1], zip(c3FitSpikeOX, c3FitSpikeOY), '#eb9444', 8),
  curve(c3Names[1], zip(c3FitOX, c3FitOY), '#eb9444', 8),
  // C1 box plots
  {type:'custom', name:'C1 box', xAxisIndex:9, yAxisIndex:9, silent:true, z:3,
    data:c1Cats.map((c,i)=>[i, c1Min[i], c1Q1[i], c1Med[i], c1Q3[i], c1Max[i]]), encode:{x:0, y:[1,5]}, renderItem:boxRender},
  {type:'custom', name:'C1 box 24', xAxisIndex:10, yAxisIndex:10, silent:true, z:3,
    data:[[0].concat(c1BreakBox)], encode:{x:0, y:[1,5]}, renderItem:boxRender}
];

// ======================= LEGENDS =======================
const LG_GREY = 'rgba(234,234,236,0.85)';
const LG_WHITE = 'rgba(255,255,255,0.85)';
const legends = [
  legendBox(a1Names, [BLUE_BAR, ORANGE_BAR, PURPLE_BAR], 133, 78, {iw:27, ih:10, gap:6, fs:13, tp:4, bg:LG_GREY, pad:[5,6,5,4]}),
  legendBox(a2Names, ['#6b9ed6','#f39a45','#a566bd','#4a9e4a'], 418, 78, {icon:DASH_ICON, iw:27, ih:2, gap:6, fs:13, tp:5, bg:LG_GREY, pad:[5,6,5,5]}),
  legendBox(a3Names, [BLUE_BAR, ORANGE_BAR], 184, 355, {iw:24, ih:9, gap:5, fs:12, tp:5, bg:LG_WHITE, pad:[4,6,4,4]}),
  legendBox(a4Names, [BLUE_BAR, ORANGE_BAR, PINK_BAR], 454, 355, {iw:25, ih:9, gap:5, fs:12, tp:4, bg:LG_WHITE, pad:[4,6,4,4]}),
  legendBox(b2Names, [BLUE_BAR, ORANGE_BAR], 754, 352, {iw:25, ih:9, gap:5, fs:12, tp:5, bg:LG_GREY, pad:[4,6,4,4]}),
  legendBox(b3Names, [BLUE_BAR, ORANGE_BAR], 1059, 352, {iw:25, ih:9, gap:7, fs:12, tp:6, bg:LG_WHITE, pad:[4,6,4,3]}),
  legendBox(c2Names, [BLUE_BAR, ORANGE_BAR], 733, 689, {iw:23, ih:9, gap:5, fs:12, tp:2, bg:LG_WHITE, pad:[4,6,4,4]}),
  legendBox(c3Names, ['#5b87c2','#eb9444'], 1029, 690, {icon:DASH_ICON, iw:25, ih:2, gap:5, fs:12, tp:1, bg:LG_GREY, pad:[4,6,4,4]})
];
// the A4 'day 7' entry refers to the pink histogram
legends[3].data[2].name = 'A4 day 7';
legends[3].formatter = n => (n === 'A4 day 7' ? 'day 7' : n);

// ======================= GRAPHICS (text) =======================
const TITLEF = 'bold 18px "Liberation Sans"';
const headF = 'bold 27px Lato';
const headT = '23.5px Lato';
const graphics = [
  ctext(10, 23, sectionHeads[0][0], headF, 'left'), ctext(42, 23, sectionHeads[0][1], headT, 'left', 1.09),
  ctext(601, 23, sectionHeads[1][0], headF, 'left'), ctext(632, 23, sectionHeads[1][1], headT, 'left'),
  ctext(11, 632, sectionHeads[2][0], headF, 'left'), ctext(41, 632, sectionHeads[2][1], headT, 'left'),
  ctext(163, 58, panelTitles[0], TITLEF), ctext(446, 58, panelTitles[1], TITLEF),
  ctext(167, 333, panelTitles[2], TITLEF), ctext(443, 333, panelTitles[3], TITLEF),
  ctext(876, 58, panelTitles[4], 'bold 17px "DejaVu Sans"'),
  ctext(743, 334, panelTitles[5], TITLEF), ctext(1034, 334, panelTitles[6], TITLEF),
  ctext(260, 668, panelTitles[7], 'bold 17px "Liberation Sans"'),
  ctext(741, 672, panelTitles[8], TITLEF), ctext(1035, 672, panelTitles[9], TITLEF),
  note(68, 81, a1Notes[0]), note(68, 121, a1Notes[1]), note(199, 147, a1Notes[2]),
  note(352, 80.5, a2Notes[0]), note(352, 121, a2Notes[1]), note(483, 170, a2Notes[2]), note(483, 208.5, a2Notes[3]),
  note(74, 355.5, a3Notes[0]), note(74, 394, a3Notes[1]),
  note(463, 416.5, a4Notes[0]), note(463, 457, a4Notes[1]), note(463, 496.5, a4Notes[2]),
  note(785, 402, b2Notes[0]), note(785, 440.5, b2Notes[1]),
  note(1060, 399, b3Notes[0]), note(1060, 437, b3Notes[1]),
  note(778, 739, c2Notes[0]), note(778, 778, c2Notes[1]),
  note(1072, 739.5, c3Notes[0]), note(1072, 778, c3Notes[1])
];
// axis-break marks for panel C
[[437,686,450,679],[462,686,474,679],[437,879,450,872],[462,879,474,872]].forEach(s=>{
  graphics.push({type:'line', z:100, silent:true, shape:{x1:s[0], y1:s[1], x2:s[2], y2:s[3]}, style:{stroke:AX, lineWidth:1.3}});
});

const chart = echarts.init(document.getElementById('chart'), null, {renderer:'canvas', width:1140, height:921});
chart.setOption({
  animation:false,
  backgroundColor:'#ffffff',
  textStyle:{fontFamily:'DejaVu Sans'},
  grid:grids,
  xAxis:xAxes,
  yAxis:yAxes,
  legend:legends,
  series:series,
  graphic:{elements:graphics}
});
</script>
</body>
</html>
